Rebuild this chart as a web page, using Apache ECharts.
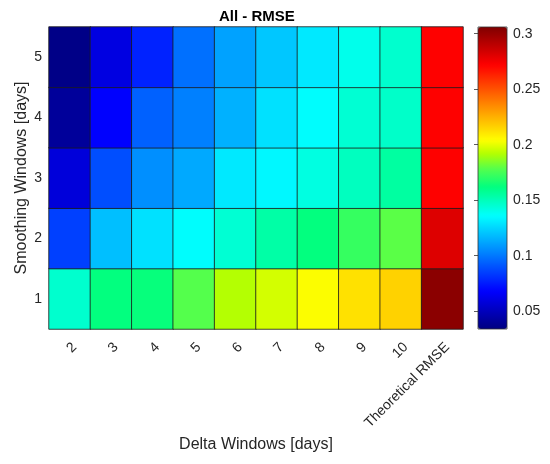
<!DOCTYPE html>
<html>
<head>
<meta charset="utf-8">
<script src="https://cdn.jsdelivr.net/npm/echarts@6/dist/echarts.min.js"></script>
<style>
  html, body { margin: 0; padding: 0; background: #fff; }
  #chart { width: 550px; height: 464px; }
</style>
</head>
<body>
<div id="chart"></div>
<script>
// x categories (delta windows) and y categories (smoothing windows)
const deltaWindows = ['2', '3', '4', '5', '6', '7', '8', '9', '10', 'Theoretical RMSE'];
const smoothingWindows = ['1', '2', '3', '4', '5'];

// RMSE per smoothing window, one value per delta window
const rmseS1 = [0.146, 0.162, 0.163, 0.178, 0.192, 0.197, 0.204, 0.212, 0.216, 0.303];
const rmseS2 = [0.085, 0.119, 0.128, 0.136, 0.145, 0.154, 0.162, 0.172, 0.179, 0.281];
const rmseS3 = [0.058, 0.089, 0.106, 0.113, 0.130, 0.134, 0.142, 0.149, 0.155, 0.272];
const rmseS4 = [0.041, 0.068, 0.094, 0.102, 0.115, 0.128, 0.136, 0.145, 0.147, 0.272];
const rmseS5 = [0.036, 0.060, 0.077, 0.098, 0.111, 0.121, 0.130, 0.140, 0.146, 0.272];

// colorbar
const colorMin = 0.034;
const colorMax = 0.306;
const colorTicks = [0.05, 0.1, 0.15, 0.2, 0.25, 0.3];

const rows = [rmseS1, rmseS2, rmseS3, rmseS4, rmseS5];
const heatData = [];
rows.forEach((row, yi) => {
  row.forEach((v, xi) => heatData.push([xi, yi, v]));
});

// jet-like colormap
function jetColors(n) {
  const stops = [
    [0, 0, 0, 0.5], [0.125, 0, 0, 1], [0.375, 0, 1, 1], [0.47, 0, 1, 0.5],
    [0.53, 0.33, 1, 0.3], [0.58, 0.7, 1, 0], [0.625, 1, 1, 0],
    [0.875, 1, 0, 0], [1, 0.5, 0, 0]
  ];
  const out = [];
  for (let i = 0; i < n; i++) {
    const t = i / (n - 1);
    let k = 0;
    while (k < stops.length - 2 && t > stops[k + 1][0]) k++;
    const a = stops[k], b = stops[k + 1];
    const f = (t - a[0]) / (b[0] - a[0]);
    const c = [1, 2, 3].map(j => Math.round(255 * (a[j] + (b[j] - a[j]) * f)));
    out.push('rgb(' + c.join(',') + ')');
  }
  return out;
}

const font = "'Liberation Sans', Arial, sans-serif";
const textColor = '#262626';

const chart = echarts.init(document.getElementById('chart'));
chart.setOption({
  backgroundColor: '#fff',
  animation: false,
  textStyle: { fontFamily: font },
  title: {
    text: 'All - RMSE',
    left: 214,
    top: 4,
    textStyle: { fontSize: 15, fontWeight: 'bold', color: '#000', fontFamily: font }
  },
  grid: [
    { left: 49, top: 27, width: 414, height: 302 },
    { left: 478, top: 27, width: 29, height: 302, show: true, z: 10,
      backgroundColor: 'transparent', borderColor: '#333', borderWidth: 0.8 }
  ],
  xAxis: [
    {
      type: 'category',
      data: deltaWindows,
      gridIndex: 0,
      axisLine: { show: false },
      axisTick: { show: false },
      axisLabel: { rotate: 45, interval: 0, fontSize: 14, color: textColor, margin: 11,
        verticalAlign: 'top' },
      name: 'Delta Windows [days]',
      nameLocation: 'middle',
      nameGap: 108,
      nameMoveOverlap: false,
      nameTextStyle: { fontSize: 16, color: textColor }
    },
    { type: 'value', gridIndex: 1, show: false, min: 0, max: 1 }
  ],
  yAxis: [
    {
      type: 'category',
      data: smoothingWindows,
      gridIndex: 0,
      axisLine: { show: false },
      axisTick: { show: false },
      axisLabel: { fontSize: 14, color: textColor, margin: 7 },
      name: 'Smoothing Windows [days]',
      nameLocation: 'middle',
      nameGap: 19,
      nameMoveOverlap: false,
      nameRotate: 90,
      nameTextStyle: { fontSize: 16, color: textColor }
    },
    {
      type: 'value',
      gridIndex: 1,
      position: 'right',
      min: colorMin,
      max: colorMax,
      splitLine: { show: false },
      axisLine: { show: false },
      axisTick: { show: true, inside: true, length: 4, customValues: colorTicks,
        lineStyle: { color: '#333', width: 0.8 } },
      axisLabel: { customValues: colorTicks, fontSize: 14, color: textColor, margin: 6,
        formatter: v => String(+v.toFixed(2)) }
    }
  ],
  visualMap: {
    type: 'continuous',
    seriesIndex: 0,
    min: colorMin,
    max: colorMax,
    orient: 'vertical',
    left: 478,
    top: 27,
    padding: 0,
    itemWidth: 29,
    itemHeight: 302,
    calculable: false,
    hoverLink: false,
    inRange: { color: jetColors(128) }
  },
  series: [
    {
      type: 'heatmap',
      xAxisIndex: 0,
      yAxisIndex: 0,
      data: heatData,
      itemStyle: { borderColor: '#1a1a1a', borderWidth: 0.8 },
      emphasis: { disabled: true }
    },
    { type: 'scatter', xAxisIndex: 1, yAxisIndex: 1, data: [] }
  ]
});
</script>
</body>
</html>
